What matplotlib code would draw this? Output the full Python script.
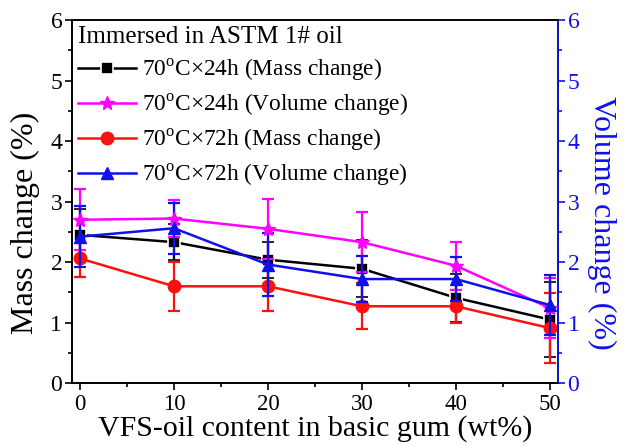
import matplotlib
matplotlib.use("Agg")
import matplotlib.pyplot as plt
from matplotlib.ticker import MultipleLocator
from matplotlib.lines import Line2D

plt.rcParams['font.family'] = ['Liberation Serif', 'DejaVu Serif']
plt.rcParams['mathtext.fontset'] = 'custom'
plt.rcParams['mathtext.rm'] = 'Liberation Serif'

vfs = [0, 10, 20, 30, 40, 50]
mass_24 = [2.45, 2.33, 2.04, 1.89, 1.41, 1.05]
mass_24_err = [0.42, 0.30, 0.30, 0.47, 0.40, 0.62]
vol_24 = [2.70, 2.72, 2.55, 2.33, 1.94, 1.24]
vol_24_err = [0.50, 0.30, 0.50, 0.50, 0.40, 0.50]
mass_72 = [2.06, 1.60, 1.60, 1.27, 1.27, 0.91]
mass_72_err = [0.30, 0.40, 0.40, 0.38, 0.27, 0.58]
vol_72 = [2.42, 2.56, 1.96, 1.72, 1.72, 1.29]
vol_72_err = [0.50, 0.42, 0.52, 0.38, 0.37, 0.50]

labels = ['70$^{\\mathrm{o}}$C×24h (Mass change)',
          '70$^{\\mathrm{o}}$C×24h (Volume change)',
          '70$^{\\mathrm{o}}$C×72h (Mass change)',
          '70$^{\\mathrm{o}}$C×72h (Volume change)']

fig = plt.figure(figsize=(6.24, 4.46), dpi=100)
ax = fig.add_axes([0.1154, 0.141, 0.7786, 0.814])
ax2 = ax.twinx()

blue = '#1010ee'
magenta = '#ff00ff'
red = '#ff1010'
eb = dict(capsize=4, elinewidth=1.6, capthick=1.6, lw=1.8)
ax.errorbar(vfs, mass_24, yerr=mass_24_err, color='black', marker='s', ms=8,
            mec='white', mew=1.2, **eb)
ax2.errorbar(vfs, vol_24, yerr=vol_24_err, color=magenta, marker='*', ms=10, **eb)
ax.errorbar(vfs, mass_72, yerr=mass_72_err, color=red, marker='o', ms=9, **eb)
ax2.errorbar(vfs, vol_72, yerr=vol_72_err, color=blue, marker='^', ms=9, **eb)

for a in (ax, ax2):
    a.set_xlim(-0.85, 50.85)
    a.set_ylim(0, 6)
    a.yaxis.set_major_locator(MultipleLocator(1))
    a.yaxis.set_minor_locator(MultipleLocator(0.5))
ax.xaxis.set_major_locator(MultipleLocator(10))
ax.xaxis.set_minor_locator(MultipleLocator(5))

ax.tick_params(axis='both', which='major', direction='out', length=5, width=1.2, labelsize=17)
ax.tick_params(axis='both', which='minor', direction='out', length=3, width=1.2)
ax.tick_params(axis='x', pad=3, labelsize=16.5)
ax.tick_params(axis='y', pad=2)
ax2.tick_params(axis='y', which='major', direction='out', length=5, width=1.2,
                labelsize=17, colors=blue, pad=2)
ax2.tick_params(axis='y', which='minor', direction='out', length=3, width=1.2, colors=blue)

for s in ax.spines.values():
    s.set_linewidth(1.2)
for s in ax2.spines.values():
    s.set_linewidth(1.2)
ax2.spines['right'].set_color(blue)

ax.set_xlabel('VFS-oil content in basic gum (wt%)', fontsize=21.5, labelpad=0)
ax.set_ylabel('Mass change (%)', fontsize=23, va='center')
ax2.set_ylabel('Volume change (%)', fontsize=23, color=blue, rotation=270, va='center')
ax.yaxis.set_label_coords(-0.095, 0.44)
ax2.yaxis.set_label_coords(1.09, 0.44)

handles = [
    Line2D([], [], color='black', lw=1.8, marker='s', ms=8, mec='white', mew=1.2),
    Line2D([], [], color=magenta, lw=1.8, marker='*', ms=10),
    Line2D([], [], color=red, lw=1.8, marker='o', ms=9),
    Line2D([], [], color=blue, lw=1.8, marker='^', ms=9),
]
leg = ax2.legend(handles, labels, loc='upper left', frameon=False,
                 fontsize=16.8, title='Immersed in ASTM 1# oil', title_fontsize=18,
                 handlelength=2.5, handletextpad=0.25, labelspacing=0.38,
                 borderaxespad=0.1, borderpad=0.15)
leg._legend_box.align = 'left'

fig.savefig('out.png', dpi=100)
